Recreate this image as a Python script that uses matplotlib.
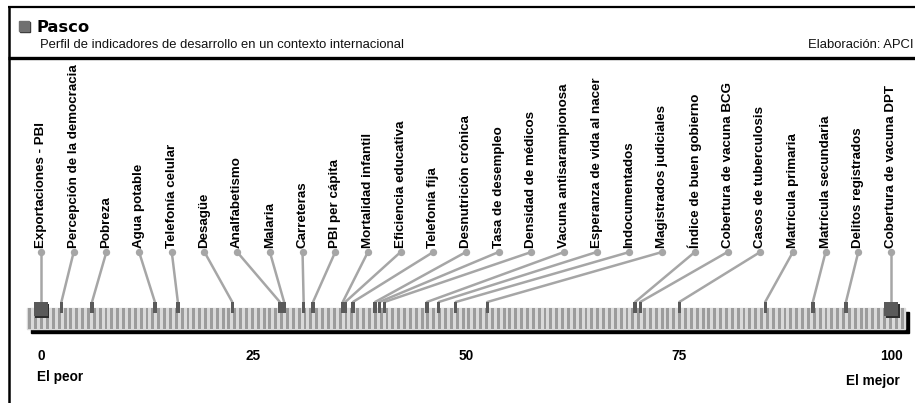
import numpy as np
import matplotlib
matplotlib.use("Agg")
import matplotlib.pyplot as plt
from matplotlib.patches import Rectangle

plt.rcParams['font.family'] = ['Liberation Sans', 'DejaVu Sans']

title = "Pasco"
subtitle = "Perfil de indicadores de desarrollo en un contexto internacional"
source = "Elaboración: APCI"

indicators = [
    "Exportaciones - PBI", "Percepción de la democracia", "Pobreza", "Agua potable",
    "Telefonía celular", "Desagüe", "Analfabetismo", "Malaria", "Carreteras",
    "PBI per cápita", "Mortalidad infantil", "Eficiencia educativa", "Telefonía fija",
    "Desnutrición crónica", "Tasa de desempleo", "Densidad de médicos",
    "Vacuna antisarampionosa", "Esperanza de vida al nacer", "Indocumentados",
    "Magistrados judiciales", "Índice de buen gobierno", "Cobertura de vacuna BCG",
    "Casos de tuberculosis", "Matrícula primaria", "Matrícula secundaria",
    "Delitos registrados", "Cobertura de vacuna DPT",
]
scores = [0, 2.4, 6.0, 13.4, 16.1, 22.5, 28.1, 28.6, 30.9, 32.0, 35.5, 35.8, 36.7,
          39.3, 39.8, 40.4, 45.4, 46.8, 48.8, 52.5, 69.9, 70.5, 75.1, 85.2, 90.8,
          94.7, 100]
ticks = [0, 25, 50, 75, 100]
worst_label = "El peor"
best_label = "El mejor"

W, H = 915, 403
fig = plt.figure(figsize=(W / 100, H / 100), dpi=100)

# overlay in pixel units for the frame and header
frame = fig.add_axes([0, 0, 1, 1])
frame.set_xlim(0, W)
frame.set_ylim(H, 0)
frame.axis('off')

# main axes: 0 -> 41px, 100 -> 891px, y in pixels
ppu = 8.5
ax = fig.add_axes([0, 0, 1, 1])
ax.set_xlim(-41 / ppu, (W - 41) / ppu)
ax.set_ylim(H, 0)
ax.axis('off')
ax.patch.set_alpha(0)

# frame
frame.plot([8, W], [7, 7], color='black', lw=1.6, solid_capstyle='butt')
frame.plot([9, 9], [6, H], color='black', lw=1.8, solid_capstyle='butt')
frame.plot([8, W], [57.5, 57.5], color='black', lw=2.4, solid_capstyle='butt')
frame.add_patch(Rectangle((20, 22), 10, 10, color='#333333'))
frame.add_patch(Rectangle((19, 21), 10, 10, color='#707070'))
frame.text(37, 27, title, fontsize=11.8, fontweight='heavy', family='DejaVu Sans',
           va='center', ha='left')
frame.text(40, 45, subtitle, fontsize=9.4, va='center', ha='left', color='#111111')
frame.text(913, 45, source, fontsize=9.4, va='center', ha='right', color='#111111')

# striped strip with black drop shadow
x0, x1 = -14 / ppu, 864 / ppu
top, h = 308, 21
ax.add_patch(Rectangle((x0 + 4 / ppu, top + 4), x1 - x0, h, color='black', zorder=1))
ax.add_patch(Rectangle((x0, top), x1 - x0, h, color='#dadada', zorder=2))
n_stripes = 150
period = (x1 - x0) / n_stripes
stripe_x = x0 + period * (np.arange(n_stripes) + 0.5)
ax.bar(stripe_x, h, width=period * 0.5, bottom=top, color='#9c9c9c', zorder=3)

# connectors
label_x = np.linspace(0, 100, len(indicators))
dot_y, mark_y = 252, 302
for lx, v in zip(label_x, scores):
    ax.plot([lx, v], [dot_y, mark_y], color='#a6a6a6', lw=1.8, zorder=4,
            solid_capstyle='round')
ax.scatter(label_x, [dot_y] * len(label_x), s=28, color='#a6a6a6', zorder=5,
           linewidths=0)

mids = [v for v in scores if 0 < v < 100]
ax.bar(mids, 11, width=3.4 / ppu, bottom=mark_y, color='#5a5a5a', zorder=6)
ends = [v for v in scores if v in (0, 100)]
ax.scatter([e + 1.5 / ppu for e in ends], [310.5] * len(ends), marker='s', s=105,
           color='#2e2e2e', zorder=6, linewidths=0)
ax.scatter(ends, [309] * len(ends), marker='s', s=105, color='#5a5a5a', zorder=7,
           linewidths=0)

for lx, name in zip(label_x, indicators):
    ax.text(lx, 247.5, name, rotation=90, ha='center', va='bottom',
            fontsize=9.6, fontweight='bold', zorder=8)

for t in ticks:
    ax.text(t, 356, str(t), ha='center', va='center', fontsize=9.8, fontweight='bold')
frame.text(37, 377, worst_label, ha='left', va='center', fontsize=9.8, fontweight='bold')
frame.text(900, 381, best_label, ha='right', va='center', fontsize=9.8, fontweight='bold')

fig.savefig("out.png", dpi=100)
